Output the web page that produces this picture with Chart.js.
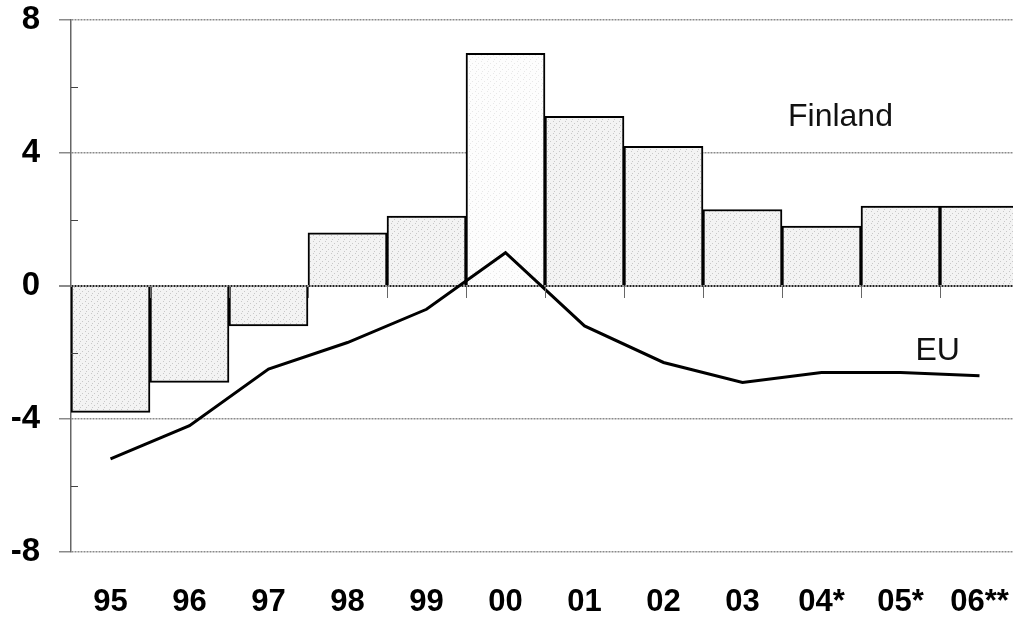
<!DOCTYPE html>
<html>
<head>
<meta charset="utf-8">
<script src="https://cdn.jsdelivr.net/npm/chart.js@4.4.0/dist/chart.umd.min.js"></script>
<style>
  html, body { margin: 0; padding: 0; background: #fff; overflow: hidden; }
  #wrap { width: 1020px; height: 625px; position: relative; }
</style>
</head>
<body>
<div id="wrap"><canvas id="chart"></canvas></div>
<script>
// Données
const years = ['95', '96', '97', '98', '99', '00', '01', '02', '03', '04*', '05*', '06**'];
const finland = [-3.8, -2.9, -1.2, 1.6, 2.1, 7.0, 5.1, 4.2, 2.3, 1.8, 2.4, 2.4];
const eu = [-5.2, -4.2, -2.5, -1.7, -0.7, 1.0, -1.2, -2.3, -2.9, -2.6, -2.6, -2.7];
const yTicks = [-8, -4, 0, 4, 8];
const minorTicks = [-6, -2, 2, 6];

// étiquettes dans le graphique : [texte, position x (catégorie), valeur y, alignement]
const notes = [
    ['Finland', 9.24, 4.8, 'center'],
    ['EU', 10.19, -2.22, 'left']
];

const FONT = "'Liberation Sans', Arial, sans-serif";

// Motif pointillé pour les barres
function stipple(base, dot) {
    const c = document.createElement('canvas');
    c.width = 6; c.height = 6;
    const g = c.getContext('2d');
    g.fillStyle = base;
    g.fillRect(0, 0, 6, 6);
    g.fillStyle = dot;
    g.fillRect(1, 1, 1, 1);
    g.fillRect(4, 3, 1, 1);
    g.fillRect(2, 5, 1, 1);
    return g.createPattern(c, 'repeat');
}
const barFill = stipple('#f3f3f3', '#c8c8c8');
const lightFill = stipple('#fdfdfd', '#e8e8e8');

// supprimer le rembourrage automatique des axes
function noPad(scale) {
    scale.paddingTop = 0;
    scale.paddingBottom = 0;
    scale.paddingLeft = 0;
    scale.paddingRight = 0;
}

const extras = {
    id: 'extras',
    afterDatasetsDraw(chart) {
        const ctx = chart.ctx;
        const x = chart.scales.x;
        const y = chart.scales.y;
        const y0 = y.getPixelForValue(0);
        ctx.save();
        // petites graduations sur l'axe des y
        ctx.strokeStyle = '#444';
        ctx.lineWidth = 1;
        minorTicks.forEach(v => {
            const py = Math.round(y.getPixelForValue(v)) + 0.5;
            ctx.beginPath();
            ctx.moveTo(x.left, py);
            ctx.lineTo(x.left + 7, py);
            ctx.stroke();
        });
        // graduations des catégories sur la ligne zéro
        ctx.strokeStyle = '#666';
        for (let i = 0; i < years.length - 1; i++) {
            const px = Math.round((x.getPixelForValue(i) + x.getPixelForValue(i + 1)) / 2) + 0.5;
            ctx.beginPath();
            ctx.moveTo(px, y0);
            ctx.lineTo(px, y0 + 12);
            ctx.stroke();
        }
        // étiquettes
        ctx.fillStyle = '#111';
        ctx.font = '32px ' + FONT;
        ctx.textBaseline = 'alphabetic';
        notes.forEach(n => {
            const i0 = Math.floor(n[1]);
            const f = n[1] - i0;
            const px = x.getPixelForValue(i0) + f * (x.getPixelForValue(i0 + 1) - x.getPixelForValue(i0));
            ctx.textAlign = n[3];
            ctx.fillText(n[0], px, y.getPixelForValue(n[2]));
        });
        ctx.restore();
    }
};

const ctx = document.getElementById('chart').getContext('2d');
new Chart(ctx, {
    data: {
        labels: years,
        datasets: [{
            type: 'line',
            label: 'EU',
            data: eu,
            borderColor: '#000',
            borderWidth: 3,
            pointRadius: 0,
            tension: 0,
            order: 0
        },
        {
            type: 'bar',
            label: 'Finland',
            data: finland,
            backgroundColor: finland.map((v, i) => i === 5 ? lightFill : barFill),
            borderColor: '#000',
            borderWidth: 2,
            barPercentage: 1,
            categoryPercentage: 1,
            order: 1
        }]
    },
    options: {
        responsive: true,
        maintainAspectRatio: false,
        animation: false,
        layout: { padding: { top: 20, right: 1, left: 0, bottom: 0 } },
        plugins: {
            legend: { display: false },
            tooltip: { enabled: false }
        },
        scales: {
            x: {
                grid: { display: false, drawTicks: false },
                border: { display: false },
                ticks: {
                    color: '#000',
                    padding: 32,
                    maxRotation: 0,
                    autoSkip: false,
                    font: { family: FONT, size: 31, weight: 'bold' }
                },
                afterFit(scale) { scale.height = 73; noPad(scale); }
            },
            y: {
                min: -8,
                max: 8,
                afterBuildTicks(scale) { scale.ticks = yTicks.map(v => ({ value: v })); },
                grid: {
                    color: c => c.tick && c.tick.value === 0 ? '#222' : '#8a8a8a',
                    lineWidth: c => c.tick && c.tick.value === 0 ? 2 : 1.5,
                    tickLength: 12,
                    tickColor: '#8a8a8a'
                },
                border: { display: true, color: '#666', width: 1.5, dash: [2, 1] },
                ticks: {
                    color: '#000',
                    padding: 19,
                    font: { family: FONT, size: 33, weight: 'bold' }
                },
                afterFit(scale) { scale.width = 71; noPad(scale); }
            }
        }
    },
    plugins: [extras]
});
</script>
</body>
</html>
